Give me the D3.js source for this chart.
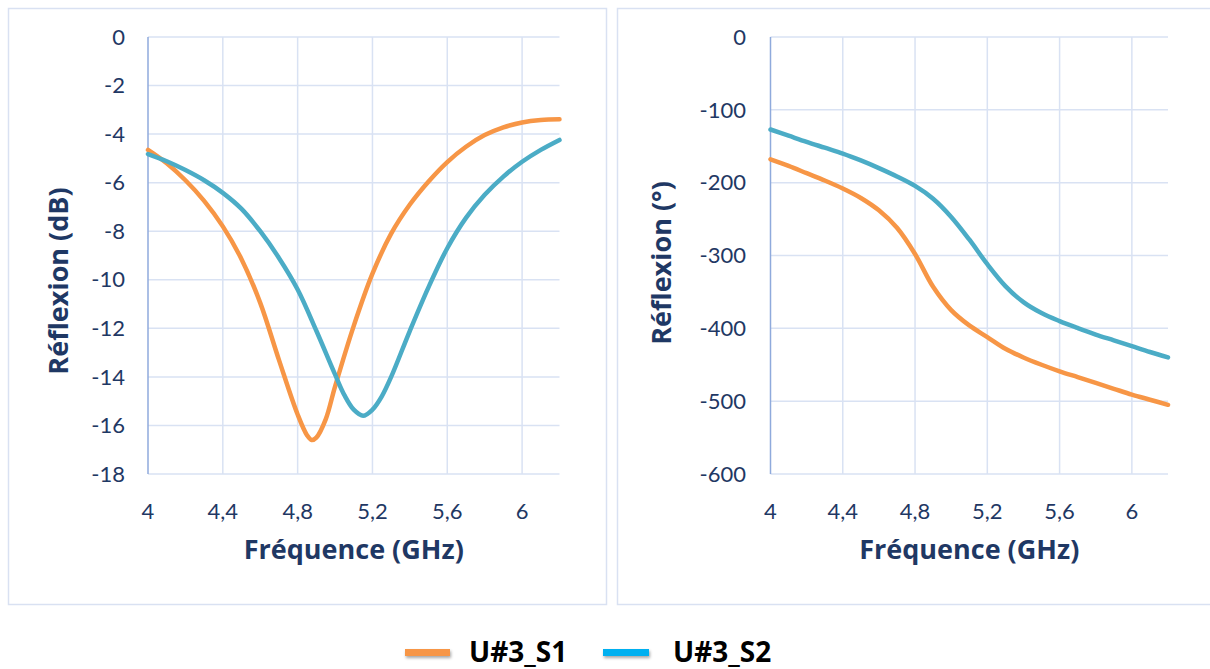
<!DOCTYPE html>
<html>
<head>
<meta charset="utf-8">
<script src="https://cdn.jsdelivr.net/npm/d3@7"></script>
<style>
  html, body { margin: 0; padding: 0; background: #fff; }
  svg { display: block; }
</style>
</head>
<body>
<svg id="chart" width="1210" height="669"></svg>
<script>
// ---------- data ----------
const seriesNames = ["U#3_S1", "U#3_S2"];
const xTicks = [4, 4.4, 4.8, 5.2, 5.6, 6];
const xTickLabels = ["4", "4,4", "4,8", "5,2", "5,6", "6"];
const dbTicks = [0, -2, -4, -6, -8, -10, -12, -14, -16, -18];
const phaseTicks = [0, -100, -200, -300, -400, -500, -600];

const freqS1dB = [4.0,4.1,4.2,4.3,4.4,4.5,4.6,4.7,4.8,4.85,4.875,4.9,4.95,5.0,5.1,5.2,5.3,5.4,5.5,5.6,5.7,5.8,5.9,6.0,6.1,6.2];
const s1dB     = [-4.65,-5.2,-5.9,-6.75,-7.8,-9.15,-10.95,-13.3,-15.55,-16.4,-16.6,-16.5,-15.75,-14.4,-11.9,-9.75,-8.1,-6.9,-5.95,-5.15,-4.52,-4.04,-3.72,-3.52,-3.42,-3.39];

const freqS2dB = [4.0,4.1,4.2,4.3,4.4,4.5,4.6,4.7,4.8,4.9,5.0,5.05,5.1,5.15,5.2,5.25,5.3,5.4,5.5,5.6,5.7,5.8,5.9,6.0,6.1,6.2];
const s2dB     = [-4.82,-5.12,-5.48,-5.9,-6.42,-7.08,-8.0,-9.1,-10.4,-12.1,-13.9,-14.75,-15.35,-15.6,-15.35,-14.8,-14.0,-12.1,-10.3,-8.7,-7.45,-6.5,-5.75,-5.14,-4.65,-4.24];

const freqPhase = [4.0,4.1,4.2,4.3,4.4,4.5,4.6,4.7,4.8,4.9,5.0,5.1,5.2,5.3,5.4,5.5,5.6,5.7,5.8,5.9,6.0,6.1,6.2];
const s1Phase   = [-168,-177,-187,-197,-208,-221,-238,-262,-298,-343,-375,-396,-412,-428,-440,-450,-459,-467,-475,-483,-491,-498,-505];
const s2Phase   = [-127,-135.5,-144,-152,-160,-169.5,-180,-191.5,-204.5,-222,-247,-278,-312,-342,-364,-379,-390,-399.5,-408.5,-416.5,-424.5,-432.5,-440];

// ---------- styles ----------
const lineColors = ["#f79646", "#4bacc6"];
const legendColors = ["#f79646", "#00b0f0"];
const textColor = "#1f3864";
const gridColor = "#d9e2f3";
const axisColor = "#8faadc";
const borderColor = "#d9e1f2";
const tickFont = "Lato, 'Open Sans', sans-serif";
const titleFont = "'Open Sans', Lato, sans-serif";

const svg = d3.select("#chart");

const defs = svg.append("defs");
const f = defs.append("filter").attr("id", "shadow")
  .attr("filterUnits", "userSpaceOnUse")
  .attr("x", 380).attr("y", 630).attr("width", 300).attr("height", 40);
f.append("feDropShadow").attr("dx", 1).attr("dy", 2).attr("stdDeviation", 1.5)
  .attr("flood-color", "#000").attr("flood-opacity", 0.35);

function panel(cfg) {
  const g = svg.append("g");
  g.append("rect")
    .attr("x", cfg.box[0] + 0.5).attr("y", cfg.box[1] + 0.5)
    .attr("width", cfg.box[2]).attr("height", cfg.box[3])
    .attr("fill", "#fff").attr("stroke", borderColor).attr("stroke-width", 1.5);

  const x = d3.scaleLinear().domain([4, 6.2]).range(cfg.xr);
  const y = d3.scaleLinear().domain(cfg.yd).range([474, 37]);

  g.append("g").selectAll("line").data(cfg.yTicks).join("line")
    .attr("x1", cfg.xr[0]).attr("x2", cfg.xr[1])
    .attr("y1", d => y(d)).attr("y2", d => y(d))
    .attr("stroke", gridColor).attr("stroke-width", 1.5);
  g.append("g").selectAll("line").data(xTicks.slice(1)).join("line")
    .attr("x1", d => x(d)).attr("x2", d => x(d))
    .attr("y1", y(cfg.yd[0])).attr("y2", y(cfg.yd[1]))
    .attr("stroke", gridColor).attr("stroke-width", 1.5);
  g.append("line")
    .attr("x1", x(4)).attr("x2", x(4))
    .attr("y1", y(cfg.yd[0])).attr("y2", y(cfg.yd[1]))
    .attr("stroke", axisColor).attr("stroke-width", 1.5);

  g.append("g").selectAll("text").data(cfg.yTicks).join("text")
    .attr("x", cfg.yLabelX).attr("y", d => y(d))
    .attr("dy", "0.35em").attr("text-anchor", "end")
    .attr("font-family", tickFont).attr("font-size", 22).attr("fill", textColor)
    .text(d => d);
  g.append("g").selectAll("text").data(xTicks).join("text")
    .attr("x", d => x(d)).attr("y", 511)
    .attr("dy", "0.35em").attr("text-anchor", "middle")
    .attr("font-family", tickFont).attr("font-size", 22).attr("fill", textColor)
    .text((d, i) => xTickLabels[i]);

  g.append("text")
    .attr("x", (cfg.xr[0] + cfg.xr[1]) / 2).attr("y", 550)
    .attr("dy", "0.35em").attr("text-anchor", "middle")
    .attr("font-family", titleFont).attr("font-weight", "bold").attr("font-size", 27).attr("fill", textColor)
    .text("Fréquence (GHz)");
  g.append("text")
    .attr("transform", `translate(${cfg.yTitleX},${cfg.yTitleY}) rotate(-90)`)
    .attr("dy", "0.35em").attr("text-anchor", "middle")
    .attr("font-family", titleFont).attr("font-weight", "bold").attr("font-size", 27).attr("fill", textColor)
    .text(cfg.yTitle);

  const line = d3.line().x(d => x(d[0])).y(d => y(d[1])).curve(d3.curveCatmullRom.alpha(0.5));
  cfg.series.forEach((s, i) => {
    g.append("path")
      .datum(s.f.map((fv, k) => [fv, s.v[k]]))
      .attr("d", line)
      .attr("fill", "none")
      .attr("stroke", lineColors[i])
      .attr("stroke-width", 4.5)
      .attr("stroke-linecap", "round")
      .attr("stroke-linejoin", "round");
  });
}

panel({
  box: [8, 8, 598, 596],
  xr: [148, 559.5],
  yd: [-18, 0],
  yTicks: dbTicks,
  yLabelX: 125,
  yTitle: "Réflexion (dB)",
  yTitleX: 59, yTitleY: 281,
  series: [{ f: freqS1dB, v: s1dB }, { f: freqS2dB, v: s2dB }]
});

panel({
  box: [617, 8, 600, 596],
  xr: [770.5, 1168],
  yd: [-600, 0],
  yTicks: phaseTicks,
  yLabelX: 746,
  yTitle: "Réflexion (°)",
  yTitleX: 662, yTitleY: 263,
  series: [{ f: freqPhase, v: s1Phase }, { f: freqPhase, v: s2Phase }]
});

// legend
const legendItems = [
  { x0: 405, x1: 450, tx: 469 },
  { x0: 603, x1: 649, tx: 673 }
];
const lg = svg.append("g");
legendItems.forEach((it, i) => {
  lg.append("rect")
    .attr("x", it.x0).attr("y", 649).attr("width", it.x1 - it.x0).attr("height", 7)
    .attr("fill", legendColors[i])
    .attr("filter", "url(#shadow)");
  lg.append("text")
    .attr("x", it.tx).attr("y", 662)
    .attr("font-family", titleFont).attr("font-weight", "bold").attr("font-size", 28).attr("fill", "#000")
    .text(seriesNames[i]);
});
</script>
</body>
</html>
